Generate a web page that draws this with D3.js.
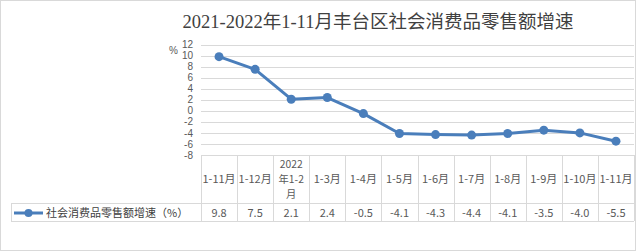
<!DOCTYPE html>
<html>
<head>
<meta charset="utf-8">
<script src="https://cdn.jsdelivr.net/npm/d3@7"></script>
<style>
  body { margin: 0; background: #fff; }
  svg text { font-family: "Noto Sans CJK SC", "Liberation Sans", sans-serif; }
</style>
</head>
<body>
<div id="chart"></div>
<script>
// chart data
const title = "2021-2022年1-11月丰台区社会消费品零售额增速";
const seriesName = "社会消费品零售额增速（%）";
const categories = ["1-11月", "1-12月", "2022\n年1-2\n月", "1-3月", "1-4月", "1-5月",
                    "1-6月", "1-7月", "1-8月", "1-9月", "1-10月", "1-11月"];
const values = [9.8, 7.5, 2.1, 2.4, -0.5, -4.1, -4.3, -4.4, -4.1, -3.5, -4.0, -5.5];
const valueLabels = ["9.8", "7.5", "2.1", "2.4", "-0.5", "-4.1", "-4.3", "-4.4", "-4.1", "-3.5", "-4.0", "-5.5"];
const yTicks = [12, 10, 8, 6, 4, 2, 0, -2, -4, -6, -8];

const W = 638, H = 252;
const grid = "#d9d9d9", textCol = "#595959", lineCol = "#4a7ebb";

let svg = d3.select("#chart").append("svg")
    .attr("width", W).attr("height", H);

// outer frame
svg.append("rect")
    .attr("x", 0.5).attr("y", 0.5)
    .attr("width", 635).attr("height", 250)
    .attr("fill", "#fff").attr("stroke", grid);

// title
svg.append("text")
    .attr("x", 378).attr("y", 28)
    .attr("text-anchor", "middle")
    .style("font-family", "'Liberation Serif', 'Noto Sans CJK SC', serif")
    .style("font-size", "18.5px")
    .attr("fill", "#404040")
    .text(title);

let x = d3.scaleBand().domain(d3.range(categories.length)).range([201, 634]);
let y = d3.scaleLinear().domain([-8, 12]).range([155, 44.5]);

// gridlines
svg.selectAll(".grid")
    .data(yTicks)
    .enter().append("line")
    .attr("x1", 201).attr("x2", 634)
    .attr("y1", d => Math.round(y(d)) + 0.5)
    .attr("y2", d => Math.round(y(d)) + 0.5)
    .attr("stroke", grid);

// y axis labels
svg.selectAll(".ytick")
    .data(yTicks)
    .enter().append("text")
    .attr("x", 193)
    .attr("y", d => y(d))
    .attr("dy", "0.36em")
    .attr("text-anchor", "end")
    .style("font-family", "'Liberation Sans', sans-serif")
    .style("font-size", "10px")
    .attr("fill", textCol)
    .text(d => d);

svg.append("text")
    .attr("x", 169).attr("y", 54)
    .style("font-family", "'Liberation Sans', sans-serif")
    .style("font-size", "10px")
    .attr("fill", textCol)
    .text("%");

// data table
let headTop = 155, headBot = 203, rowBot = 221;
let tbl = svg.append("g").attr("stroke", grid).attr("fill", "none");
tbl.append("line").attr("x1", 201).attr("x2", 634).attr("y1", headTop + 0.5).attr("y2", headTop + 0.5);
tbl.append("line").attr("x1", 11).attr("x2", 634).attr("y1", headBot + 0.5).attr("y2", headBot + 0.5);
tbl.append("line").attr("x1", 11).attr("x2", 634).attr("y1", rowBot + 0.5).attr("y2", rowBot + 0.5);
tbl.append("line").attr("x1", 11.5).attr("x2", 11.5).attr("y1", headBot).attr("y2", rowBot);
tbl.selectAll(".vline")
    .data(d3.range(categories.length + 1))
    .enter().append("line")
    .attr("x1", i => Math.round(i < categories.length ? x(i) : x.range()[1]) + 0.5)
    .attr("x2", i => Math.round(i < categories.length ? x(i) : x.range()[1]) + 0.5)
    .attr("y1", headTop).attr("y2", rowBot);

// header labels (can wrap)
let head = svg.selectAll(".head")
    .data(categories)
    .enter().append("text")
    .attr("text-anchor", "middle")
    .style("font-size", d => d.includes("\n") ? "10.3px" : "11px")
    .attr("fill", textCol);
head.each(function(d, i) {
    let lines = d.split("\n");
    let cy = (headTop + headBot) / 2;
    let lh = 15;
    lines.forEach((t, k) => {
        d3.select(this).append("tspan")
            .attr("x", x(i) + x.bandwidth() / 2)
            .attr("y", cy + (k - (lines.length - 1) / 2) * lh)
            .attr("dy", "0.35em")
            .text(t);
    });
});

// value row
svg.selectAll(".val")
    .data(valueLabels)
    .enter().append("text")
    .attr("x", (d, i) => x(i) + x.bandwidth() / 2)
    .attr("y", (headBot + rowBot) / 2 + 1)
    .attr("dy", "0.35em")
    .attr("text-anchor", "middle")
    .style("font-size", "11px")
    .attr("fill", textCol)
    .text(d => d);

// legend key in table
let ly = (headBot + rowBot) / 2 + 1;
svg.append("line")
    .attr("x1", 14).attr("x2", 43).attr("y1", ly).attr("y2", ly)
    .attr("stroke", lineCol).attr("stroke-width", 3);
svg.append("circle")
    .attr("cx", 28.5).attr("cy", ly).attr("r", 4)
    .attr("fill", lineCol);
svg.append("text")
    .attr("x", 46).attr("y", ly)
    .attr("dy", "0.35em")
    .style("font-size", "11px")
    .attr("fill", "#404040")
    .text(seriesName);

// series line
let line = d3.line()
    .x((d, i) => x(i) + x.bandwidth() / 2)
    .y(d => y(d));

svg.append("path")
    .datum(values)
    .attr("d", line)
    .attr("fill", "none")
    .attr("stroke", lineCol)
    .attr("stroke-width", 3)
    .attr("stroke-linejoin", "round");

svg.selectAll(".pt")
    .data(values)
    .enter().append("circle")
    .attr("cx", (d, i) => x(i) + x.bandwidth() / 2)
    .attr("cy", d => y(d))
    .attr("r", 4.5)
    .attr("fill", lineCol);
</script>
</body>
</html>
